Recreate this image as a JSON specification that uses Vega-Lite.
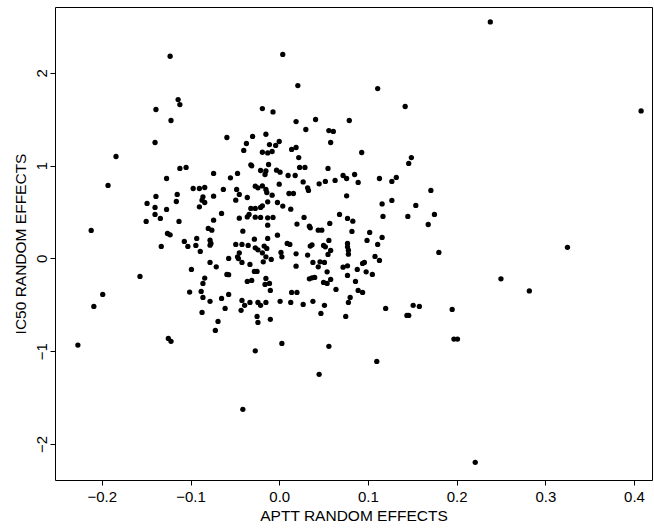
{
  "$schema": "https://vega.github.io/schema/vega-lite/v6.json",
  "width": 597,
  "height": 473,
  "autosize": {"type": "none"},
  "padding": {"left": 55, "top": 7, "right": 2, "bottom": 49},
  "background": "white",
  "config": {
    "view": {"stroke": "black", "strokeWidth": 1},
    "font": "Liberation Sans"
  },
  "data": {"values": [
    {"x": -0.114, "y": 1.713}, {"x": -0.112, "y": 1.659}, {"x": -0.139, "y": 1.606}, {"x": -0.122, "y": 1.487},
    {"x": -0.140, "y": 1.25}, {"x": -0.184, "y": 1.099}, {"x": -0.112, "y": 0.970}, {"x": -0.105, "y": 0.981},
    {"x": 0.021, "y": 1.864}, {"x": -0.019, "y": 1.616}, {"x": -0.007, "y": 1.580}, {"x": 0.019, "y": 1.476},
    {"x": 0.030, "y": 1.390}, {"x": -0.059, "y": 1.304}, {"x": -0.030, "y": 1.315}, {"x": -0.015, "y": 1.339},
    {"x": -0.037, "y": 1.239}, {"x": -0.011, "y": 1.228}, {"x": -0.004, "y": 1.218}, {"x": 0.000, "y": 1.261},
    {"x": -0.040, "y": 1.164}, {"x": -0.019, "y": 1.145}, {"x": -0.013, "y": 1.138}, {"x": -0.008, "y": 1.153},
    {"x": 0.014, "y": 1.175}, {"x": 0.019, "y": 1.196}, {"x": 0.022, "y": 1.088}, {"x": -0.032, "y": 1.009},
    {"x": -0.031, "y": 0.998}, {"x": -0.012, "y": 1.013}, {"x": -0.021, "y": 0.948}, {"x": -0.015, "y": 0.944},
    {"x": -0.016, "y": 0.905}, {"x": -0.003, "y": 0.952}, {"x": 0.001, "y": 0.930}, {"x": 0.010, "y": 0.894},
    {"x": 0.018, "y": 0.894}, {"x": 0.023, "y": 0.981}, {"x": 0.029, "y": 0.981}, {"x": -0.074, "y": 0.916},
    {"x": -0.047, "y": 0.916},
    {"x": 0.111, "y": 1.832}, {"x": 0.142, "y": 1.638}, {"x": 0.041, "y": 1.498}, {"x": 0.079, "y": 1.487},
    {"x": 0.056, "y": 1.379}, {"x": 0.061, "y": 1.369}, {"x": 0.058, "y": 1.25}, {"x": 0.093, "y": 1.142},
    {"x": 0.149, "y": 1.088}, {"x": 0.146, "y": 1.024}, {"x": 0.055, "y": 0.970}, {"x": 0.072, "y": 0.894},
    {"x": 0.085, "y": 0.905},
    {"x": -0.127, "y": 0.862}, {"x": -0.193, "y": 0.787}, {"x": -0.115, "y": 0.690}, {"x": -0.097, "y": 0.754},
    {"x": -0.090, "y": 0.754}, {"x": -0.084, "y": 0.765}, {"x": -0.139, "y": 0.668}, {"x": -0.149, "y": 0.593},
    {"x": -0.116, "y": 0.614}, {"x": -0.086, "y": 0.664}, {"x": -0.087, "y": 0.628}, {"x": -0.084, "y": 0.603},
    {"x": -0.090, "y": 0.556}, {"x": -0.140, "y": 0.550}, {"x": -0.127, "y": 0.528}, {"x": -0.140, "y": 0.474},
    {"x": -0.134, "y": 0.431}, {"x": -0.150, "y": 0.399}, {"x": -0.113, "y": 0.399}, {"x": -0.212, "y": 0.302},
    {"x": -0.126, "y": 0.269}, {"x": -0.123, "y": 0.254}, {"x": -0.133, "y": 0.129}, {"x": -0.107, "y": 0.183},
    {"x": -0.103, "y": 0.129}, {"x": -0.093, "y": 0.216}, {"x": -0.094, "y": 0.140}, {"x": -0.089, "y": 0.075},
    {"x": -0.055, "y": 0.869}, {"x": -0.063, "y": 0.744}, {"x": -0.048, "y": 0.744}, {"x": -0.045, "y": 0.690},
    {"x": -0.049, "y": 0.628}, {"x": -0.074, "y": 0.671}, {"x": -0.036, "y": 0.657}, {"x": -0.027, "y": 0.779},
    {"x": -0.024, "y": 0.761}, {"x": -0.019, "y": 0.782}, {"x": -0.015, "y": 0.744}, {"x": -0.014, "y": 0.711},
    {"x": -0.008, "y": 0.682}, {"x": 0.000, "y": 0.801}, {"x": 0.011, "y": 0.700}, {"x": 0.016, "y": 0.700},
    {"x": 0.027, "y": 0.825}, {"x": 0.032, "y": 0.761}, {"x": 0.033, "y": 0.733}, {"x": -0.013, "y": 0.610},
    {"x": -0.019, "y": 0.567}, {"x": -0.021, "y": 0.550}, {"x": -0.032, "y": 0.539}, {"x": -0.027, "y": 0.539},
    {"x": -0.002, "y": 0.603}, {"x": 0.004, "y": 0.564}, {"x": 0.013, "y": 0.531}, {"x": -0.065, "y": 0.485},
    {"x": -0.045, "y": 0.434}, {"x": -0.036, "y": 0.448}, {"x": -0.034, "y": 0.474}, {"x": -0.027, "y": 0.445},
    {"x": -0.021, "y": 0.442}, {"x": -0.013, "y": 0.438}, {"x": -0.007, "y": 0.442}, {"x": -0.013, "y": 0.359},
    {"x": -0.074, "y": 0.413}, {"x": -0.080, "y": 0.323}, {"x": -0.076, "y": 0.305}, {"x": -0.041, "y": 0.294},
    {"x": -0.002, "y": 0.251}, {"x": 0.020, "y": 0.370}, {"x": 0.028, "y": 0.442}, {"x": 0.034, "y": 0.348},
    {"x": 0.035, "y": 0.330}, {"x": 0.044, "y": 0.305}, {"x": -0.078, "y": 0.197}, {"x": -0.077, "y": 0.162},
    {"x": -0.078, "y": 0.143}, {"x": -0.049, "y": 0.151}, {"x": -0.042, "y": 0.151}, {"x": -0.035, "y": 0.140},
    {"x": -0.028, "y": 0.208}, {"x": -0.013, "y": 0.216}, {"x": -0.027, "y": 0.114}, {"x": -0.024, "y": 0.093},
    {"x": -0.019, "y": 0.060}, {"x": -0.017, "y": 0.133}, {"x": -0.014, "y": 0.108}, {"x": -0.045, "y": 0.060},
    {"x": -0.057, "y": 0.000}, {"x": -0.047, "y": 0.017}, {"x": -0.046, "y": -0.002}, {"x": -0.042, "y": -0.043},
    {"x": -0.033, "y": -0.065}, {"x": -0.015, "y": 0.017}, {"x": -0.009, "y": -0.011}, {"x": -0.018, "y": -0.037},
    {"x": 0.009, "y": 0.162}, {"x": 0.012, "y": 0.151}, {"x": 0.002, "y": 0.065}, {"x": 0.003, "y": 0.017},
    {"x": 0.019, "y": 0.050}, {"x": 0.032, "y": 0.036}, {"x": 0.035, "y": 0.133}, {"x": 0.037, "y": 0.147},
    {"x": 0.038, "y": -0.043}, {"x": 0.044, "y": -0.091}, {"x": -0.078, "y": -0.043}, {"x": -0.071, "y": -0.091},
    {"x": 0.019, "y": -0.083},
    {"x": 0.045, "y": 0.804}, {"x": 0.052, "y": 0.830}, {"x": 0.063, "y": 0.841}, {"x": 0.076, "y": 0.862},
    {"x": 0.089, "y": 0.819}, {"x": 0.113, "y": 0.862}, {"x": 0.127, "y": 0.830}, {"x": 0.132, "y": 0.873},
    {"x": 0.171, "y": 0.733}, {"x": 0.076, "y": 0.675}, {"x": 0.116, "y": 0.588}, {"x": 0.127, "y": 0.625},
    {"x": 0.154, "y": 0.571}, {"x": 0.117, "y": 0.453}, {"x": 0.145, "y": 0.453}, {"x": 0.175, "y": 0.474},
    {"x": 0.168, "y": 0.366}, {"x": 0.068, "y": 0.474}, {"x": 0.077, "y": 0.431}, {"x": 0.083, "y": 0.402},
    {"x": 0.057, "y": 0.377}, {"x": 0.048, "y": 0.305}, {"x": 0.082, "y": 0.291}, {"x": 0.102, "y": 0.280},
    {"x": 0.116, "y": 0.226}, {"x": 0.099, "y": 0.194}, {"x": 0.111, "y": 0.151}, {"x": 0.056, "y": 0.194},
    {"x": 0.050, "y": 0.140}, {"x": 0.052, "y": 0.125}, {"x": 0.058, "y": 0.086}, {"x": 0.055, "y": 0.043},
    {"x": 0.077, "y": 0.162}, {"x": 0.077, "y": 0.125}, {"x": 0.078, "y": 0.089}, {"x": 0.078, "y": 0.046},
    {"x": 0.180, "y": 0.065}, {"x": 0.108, "y": 0.022}, {"x": 0.113, "y": -0.022}, {"x": 0.046, "y": -0.037},
    {"x": 0.051, "y": -0.043}, {"x": 0.072, "y": -0.094}, {"x": 0.077, "y": -0.080}, {"x": 0.094, "y": -0.054},
    {"x": 0.096, "y": -0.043},
    {"x": -0.099, "y": -0.119}, {"x": -0.157, "y": -0.194}, {"x": -0.199, "y": -0.388}, {"x": -0.209, "y": -0.517},
    {"x": -0.084, "y": -0.212}, {"x": -0.086, "y": -0.269}, {"x": -0.101, "y": -0.363}, {"x": -0.088, "y": -0.356},
    {"x": -0.086, "y": -0.420}, {"x": -0.087, "y": -0.582}, {"x": -0.125, "y": -0.862}, {"x": -0.122, "y": -0.894},
    {"x": -0.059, "y": -0.172}, {"x": -0.057, "y": -0.175}, {"x": -0.028, "y": -0.140}, {"x": -0.025, "y": -0.140},
    {"x": -0.036, "y": -0.248}, {"x": -0.031, "y": -0.237}, {"x": -0.015, "y": -0.216}, {"x": -0.016, "y": -0.280},
    {"x": -0.011, "y": -0.269}, {"x": -0.010, "y": -0.345}, {"x": -0.078, "y": -0.463}, {"x": -0.065, "y": -0.431},
    {"x": -0.057, "y": -0.388}, {"x": -0.061, "y": -0.539}, {"x": -0.042, "y": -0.453}, {"x": -0.039, "y": -0.506},
    {"x": -0.043, "y": -0.560}, {"x": -0.033, "y": -0.474}, {"x": -0.024, "y": -0.474}, {"x": -0.021, "y": -0.506},
    {"x": -0.015, "y": -0.474}, {"x": -0.025, "y": -0.625}, {"x": -0.024, "y": -0.690}, {"x": -0.010, "y": -0.657},
    {"x": 0.001, "y": -0.463}, {"x": 0.013, "y": -0.474}, {"x": 0.014, "y": -0.366}, {"x": 0.020, "y": -0.366},
    {"x": 0.027, "y": -0.496}, {"x": 0.034, "y": -0.220}, {"x": 0.037, "y": -0.209}, {"x": 0.040, "y": -0.205},
    {"x": 0.038, "y": -0.463}, {"x": -0.069, "y": -0.679}, {"x": -0.072, "y": -0.776}, {"x": 0.003, "y": -0.916},
    {"x": -0.027, "y": -0.996},
    {"x": 0.054, "y": -0.144}, {"x": 0.088, "y": -0.119}, {"x": 0.098, "y": -0.144}, {"x": 0.105, "y": -0.172},
    {"x": 0.050, "y": -0.259}, {"x": 0.054, "y": -0.269}, {"x": 0.058, "y": -0.226}, {"x": 0.077, "y": -0.183},
    {"x": 0.086, "y": -0.248}, {"x": 0.064, "y": -0.334}, {"x": 0.089, "y": -0.345}, {"x": 0.094, "y": -0.366},
    {"x": 0.080, "y": -0.420}, {"x": 0.078, "y": -0.474}, {"x": 0.051, "y": -0.506}, {"x": 0.047, "y": -0.593},
    {"x": 0.075, "y": -0.625}, {"x": 0.120, "y": -0.539}, {"x": 0.151, "y": -0.506}, {"x": 0.158, "y": -0.517},
    {"x": 0.144, "y": -0.614}, {"x": 0.146, "y": -0.614}, {"x": 0.056, "y": -0.948}, {"x": 0.110, "y": -1.110},
    {"x": -0.041, "y": -1.627}, {"x": 0.221, "y": -2.198}, {"x": -0.227, "y": -0.934},
    {"x": -0.123, "y": 2.18}, {"x": 0.004, "y": 2.2}, {"x": 0.238, "y": 2.55}, {"x": 0.408, "y": 1.59},
    {"x": 0.325, "y": 0.12}, {"x": 0.25, "y": -0.22}, {"x": 0.282, "y": -0.35}, {"x": 0.195, "y": -0.55},
    {"x": 0.197, "y": -0.87}, {"x": 0.201, "y": -0.87}, {"x": 0.045, "y": -1.25}
  ]},
  "mark": {"type": "point", "shape": "circle", "filled": true, "color": "black", "opacity": 1, "size": 28},
  "encoding": {
    "x": {
      "field": "x", "type": "quantitative",
      "scale": {"domain": [-0.2528, 0.4203], "nice": false, "zero": false},
      "axis": {
        "title": "APTT RANDOM EFFECTS", "values": [-0.2, -0.1, 0, 0.1, 0.2, 0.3, 0.4], "format": ".1f",
        "grid": false, "domain": false, "tickColor": "black", "tickSize": 5, "labelPadding": 4,
        "labelFont": "Liberation Sans", "labelFontSize": 15, "labelColor": "black",
        "titleFont": "Liberation Sans", "titleFontSize": 15.5, "titleFontWeight": "normal", "titleColor": "black", "titlePadding": 4
      }
    },
    "y": {
      "field": "y", "type": "quantitative",
      "scale": {"domain": [-2.389, 2.711], "nice": false, "zero": false},
      "axis": {
        "title": "IC50 RANDOM EFFECTS", "values": [-2, -1, 0, 1, 2], "format": "d",
        "grid": false, "domain": false, "tickColor": "black", "tickSize": 5, "labelPadding": 4,
        "labelAngle": -90, "labelAlign": "center", "labelBaseline": "alphabetic",
        "labelFont": "Liberation Sans", "labelFontSize": 15, "labelColor": "black",
        "titleFont": "Liberation Sans", "titleFontSize": 15.5, "titleFontWeight": "normal", "titleColor": "black", "titlePadding": 6
      }
    }
  }
}
